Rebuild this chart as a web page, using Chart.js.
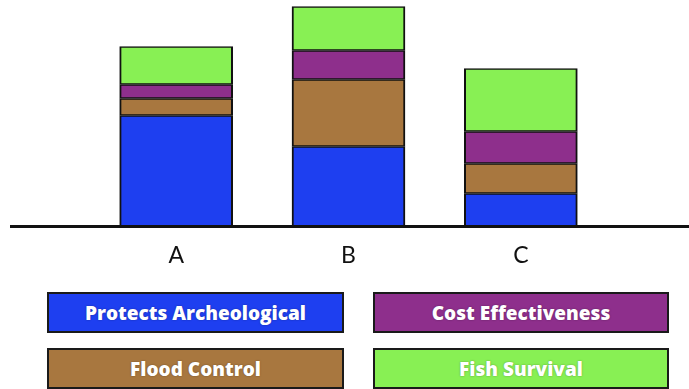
<!DOCTYPE html>
<html>
<head>
<meta charset="utf-8">
<script src="https://cdn.jsdelivr.net/npm/chart.js@4"></script>
<style>
  html, body { margin: 0; padding: 0; background: #ffffff; }
  #wrap { position: relative; width: 689px; height: 389px; overflow: hidden; }
  #chart { position: absolute; left: 0; top: 0; }
  .key {
    position: absolute; box-sizing: border-box; height: 41px;
    border: 2px solid #1a1a1a; color: #ffffff;
    font-family: "Open Sans", Lato, sans-serif; font-weight: 800; font-size: 19px;
    display: flex; align-items: center; justify-content: center;
    text-shadow: 0 0 2px rgba(0,0,0,0.35);
  }
</style>
</head>
<body>
<div id="wrap">
  <canvas id="chart" width="689" height="389"></canvas>
  <div id="keys"></div>
</div>
<script>
// Options A, B, C scored on four criteria (stacked from the bottom up)
const categories = ['A', 'B', 'C'];
const protectsArcheological = [11.1, 8.0, 3.3];
const floodControl          = [1.7, 6.7, 3.0];
const costEffectiveness     = [1.4, 2.9, 3.2];
const fishSurvival          = [3.8, 4.4, 6.3];

const seriesNames = ['Protects Archeological', 'Flood Control', 'Cost Effectiveness', 'Fish Survival'];
const seriesColors = ['#1e3ff0', '#a8773f', '#8e2f8c', '#88f054'];

const values = [protectsArcheological, floodControl, costEffectiveness, fishSurvival];

const datasets = values.map((v, i) => ({
  label: seriesNames[i],
  data: v,
  backgroundColor: seriesColors[i],
  borderColor: '#111111',
  borderWidth: { left: 2, right: 2, top: 1.5, bottom: 1.5 },
  borderSkipped: false,
  barThickness: 113
}));

// Long ground line under the bars, running across the page
const groundLine = {
  id: 'groundLine',
  afterDatasetsDraw(chart) {
    const y = chart.scales.y.getPixelForValue(0);
    const ctx = chart.ctx;
    ctx.save();
    ctx.strokeStyle = '#111111';
    ctx.lineWidth = 3;
    ctx.beginPath();
    ctx.moveTo(10, y);
    ctx.lineTo(chart.width, y);
    ctx.stroke();
    ctx.restore();
  }
};

new Chart(document.getElementById('chart'), {
  type: 'bar',
  data: { labels: categories, datasets },
  options: {
    responsive: false,
    animation: false,
    layout: { padding: { top: 1.5, left: 90, right: 82, bottom: 0 } },
    plugins: { legend: { display: false }, tooltip: { enabled: false } },
    scales: {
      x: {
        stacked: true,
        grid: { display: false, drawTicks: false },
        border: { display: false },
        ticks: {
          color: '#111111',
          padding: 15,
          font: { family: 'Lato, "Open Sans", sans-serif', size: 23 }
        },
        afterFit(scale) { scale.height = 162.5; }
      },
      y: {
        stacked: true,
        display: false,
        min: 0,
        max: 22.5
      }
    }
  },
  plugins: [groundLine]
});

// Two-by-two key of coloured boxes below the chart
const keyOrder = [0, 2, 1, 3];
const keyBox = document.getElementById('keys');
keyOrder.forEach((s, k) => {
  const d = document.createElement('div');
  d.className = 'key';
  const col = k % 2, row = Math.floor(k / 2);
  d.style.left = (col ? 373 : 47) + 'px';
  d.style.width = (col ? 296 : 297) + 'px';
  d.style.top = (row ? 348 : 292) + 'px';
  d.style.background = seriesColors[s];
  d.textContent = seriesNames[s];
  keyBox.appendChild(d);
});
</script>
</body>
</html>
